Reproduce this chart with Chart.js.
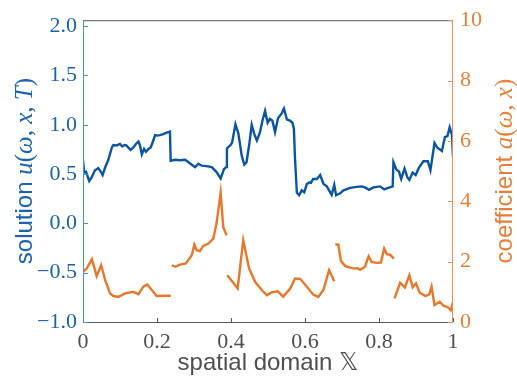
<!DOCTYPE html>
<html>
<head>
<meta charset="utf-8">
<script src="https://cdn.jsdelivr.net/npm/chart.js@4.4.1/dist/chart.umd.min.js"></script>
<style>
  html, body { margin: 0; padding: 0; background: #ffffff; }
  canvas { display: block; }
</style>
</head>
<body>
<canvas id="chart" width="517" height="378"></canvas>
<script>
// Axis ticks and their labels
const xTicks = [0, 0.2, 0.4, 0.6, 0.8, 1];
const xTickLabels = ['0', '0.2', '0.4', '0.6', '0.8', '1'];
const uTicks = [-1, -0.5, 0, 0.5, 1, 1.5, 2];
const uTickLabels = ['\u22121.0', '\u22120.5', '0.0', '0.5', '1.0', '1.5', '2.0'];
const aTicks = [0, 2, 4, 6, 8, 10];
const aTickLabels = ['0', '2', '4', '6', '8', '10'];

// Solution u(ω, x, T) over the spatial domain
const solutionX = [0, 0.003, 0.008, 0.017, 0.024, 0.032, 0.041, 0.048, 0.053, 0.06,
  0.068, 0.078, 0.082, 0.091, 0.1, 0.106, 0.112, 0.118, 0.122, 0.129,
  0.136, 0.143, 0.15, 0.154, 0.159, 0.165, 0.17, 0.177, 0.183, 0.188,
  0.195, 0.201, 0.208, 0.217, 0.226, 0.235, 0.237, 0.249, 0.262, 0.276,
  0.285, 0.303, 0.312, 0.321, 0.334, 0.348, 0.361, 0.372, 0.381, 0.387,
  0.389, 0.399, 0.403, 0.412, 0.42, 0.429, 0.436, 0.442, 0.45, 0.456,
  0.463, 0.47, 0.478, 0.485, 0.492, 0.499, 0.505, 0.512, 0.519, 0.527,
  0.537, 0.543, 0.551, 0.56, 0.566, 0.57, 0.573, 0.578, 0.584, 0.591,
  0.598, 0.605, 0.611, 0.616, 0.622, 0.632, 0.641, 0.65, 0.659, 0.665,
  0.672, 0.679, 0.684, 0.695, 0.704, 0.722, 0.74, 0.753, 0.762, 0.773,
  0.785, 0.803, 0.814, 0.825, 0.837, 0.839, 0.847, 0.854, 0.86, 0.869,
  0.877, 0.882, 0.891, 0.899, 0.908, 0.92, 0.932, 0.939, 0.95, 0.957,
  0.97, 0.978, 0.985, 0.991, 0.997, 1];
const solutionU = [0.64, 0.52, 0.525, 0.43, 0.47, 0.535, 0.56, 0.525, 0.49, 0.57,
  0.64, 0.77, 0.795, 0.79, 0.805, 0.78, 0.795, 0.79, 0.77, 0.745,
  0.77, 0.805, 0.83, 0.79, 0.70, 0.755, 0.725, 0.755, 0.77, 0.82,
  0.895, 0.89, 0.895, 0.905, 0.92, 0.93, 0.635, 0.645, 0.64, 0.645,
  0.62, 0.57, 0.605, 0.585, 0.58, 0.57, 0.52, 0.455, 0.55, 0.57,
  0.76, 0.795, 0.82, 1.005, 0.91, 0.685, 0.595, 0.62, 0.82, 1.0,
  0.905, 0.84, 0.92, 1.04, 1.14, 1.02, 1.06, 1.04, 0.925, 1.065,
  1.115, 1.165, 1.055, 1.04, 1.02, 0.96, 0.655, 0.31, 0.285, 0.335,
  0.315, 0.4, 0.415, 0.41, 0.45, 0.45, 0.49, 0.4, 0.375, 0.335,
  0.29, 0.39, 0.285, 0.305, 0.335, 0.36, 0.37, 0.375, 0.365, 0.34,
  0.365, 0.375, 0.345, 0.36, 0.375, 0.62, 0.545, 0.525, 0.45, 0.555,
  0.465, 0.44, 0.515, 0.49, 0.565, 0.63, 0.63, 0.54, 0.815, 0.77,
  0.735, 0.875, 0.885, 0.975, 0.9, 0.67];

// Coefficient a(ω, x): piecewise, null breaks the line between pieces
const coeffX = [0, 0.01, 0.024, 0.037, 0.049, 0.06, 0.073, 0.082, 0.095, 0.105,
  0.114, 0.136, 0.15, 0.163, 0.174, 0.186, 0.199, 0.217, 0.237,
  0.238,
  0.24, 0.249, 0.262, 0.278, 0.294, 0.301, 0.307, 0.316, 0.325, 0.339,
  0.352, 0.361, 0.372, 0.379, 0.388,
  0.389,
  0.39, 0.418, 0.433, 0.449, 0.465, 0.483, 0.497, 0.51, 0.526, 0.541,
  0.56, 0.573, 0.587, 0.605, 0.622, 0.636, 0.65, 0.665, 0.679,
  0.681,
  0.682, 0.69, 0.697, 0.708, 0.722, 0.735, 0.741, 0.749, 0.762, 0.772,
  0.78, 0.794, 0.805, 0.814, 0.821, 0.83, 0.84,
  0.841,
  0.842, 0.857, 0.87, 0.882, 0.891, 0.9, 0.91, 0.926, 0.936, 0.942,
  0.95, 0.964, 0.974, 0.986, 0.994, 1];
const coeffA = [1.66, 1.77, 2.08, 1.52, 1.88, 1.39, 0.95, 0.86, 0.83, 0.89,
  0.95, 1.0, 0.92, 1.17, 1.24, 1.06, 0.86, 0.87, 0.87,
  null,
  1.88, 1.83, 1.90, 1.94, 2.21, 2.56, 2.38, 2.35, 2.52, 2.60,
  2.76, 3.27, 4.29, 3.15, 2.87,
  null,
  1.55, 1.11, 2.71, 1.77, 1.33, 1.06, 0.89, 0.98, 1.02, 0.84,
  1.11, 1.44, 1.43, 1.17, 0.91, 0.83, 1.07, 1.72, 1.35,
  null,
  2.57, 2.57, 2.03, 1.86, 1.80, 1.77, 1.79, 1.73, 1.83, 2.18,
  1.99, 1.96, 1.97, 2.43, 2.25, 2.23, 2.10,
  null,
  0.78, 1.30, 1.14, 1.55, 1.15, 1.28, 0.97, 0.86, 0.92, 1.17,
  0.56, 0.67, 0.54, 0.49, 0.39, 0.67];

const BLUE_LINE = '#0b54a2';
const ORANGE_LINE = '#e8772c';
const BLUE_TEXT = '#1d62ac';
const ORANGE_TEXT = '#e67f3a';
const BLUE_SPINE = '#4b8fd0';
const ORANGE_SPINE = '#e88d5c';
const GRAY = '#4f4f4f';
const FRAME = '#555555';

const SERIF = '"Liberation Serif", "DejaVu Serif", serif';
const SANS = '"Liberation Sans", "DejaVu Sans", sans-serif';
const TICK_FONT = { family: SERIF, size: 22 };

// Draws a sequence of differently styled text runs, optionally rotated to read bottom-to-top
function drawRuns(ctx, runs, cx, cy, color, rotate) {
  ctx.save();
  ctx.fillStyle = color;
  ctx.textBaseline = 'alphabetic';
  ctx.textAlign = 'left';
  let total = 0;
  runs.forEach(r => { ctx.font = r.f; r.w = ctx.measureText(r.t).width; total += r.w; });
  ctx.translate(cx, cy);
  if (rotate) ctx.rotate(-Math.PI / 2);
  let pos = -total / 2;
  runs.forEach(r => { ctx.font = r.f; ctx.fillText(r.t, pos, 0); pos += r.w; });
  ctx.restore();
}

const framePlugin = {
  id: 'frameAndTitles',
  afterDatasetsDraw(chart) {
    const { ctx, chartArea: a, scales } = chart;
    ctx.save();
    ctx.lineWidth = 1;
    // top and bottom frame
    ctx.strokeStyle = FRAME;
    ctx.beginPath();
    ctx.moveTo(a.left, a.top + 0.5); ctx.lineTo(a.right, a.top + 0.5);
    ctx.moveTo(a.left, a.bottom + 0.5); ctx.lineTo(a.right, a.bottom + 0.5);
    ctx.stroke();
    // bottom ticks, pointing inward
    ctx.beginPath();
    xTicks.forEach(v => {
      const px = Math.round(scales.x.getPixelForValue(v)) + 0.5;
      ctx.moveTo(px, a.bottom); ctx.lineTo(px, a.bottom - 4);
    });
    ctx.stroke();
    // left spine and ticks
    ctx.strokeStyle = BLUE_SPINE;
    ctx.beginPath();
    ctx.moveTo(a.left + 0.5, a.top); ctx.lineTo(a.left + 0.5, a.bottom + 1);
    uTicks.forEach(v => {
      const py = Math.round(scales.yU.getPixelForValue(v)) + 0.5;
      ctx.moveTo(a.left, py); ctx.lineTo(a.left + 5, py);
    });
    ctx.stroke();
    // right spine and ticks
    ctx.strokeStyle = ORANGE_SPINE;
    ctx.beginPath();
    ctx.moveTo(a.right - 0.5, a.top); ctx.lineTo(a.right - 0.5, a.bottom + 1);
    aTicks.forEach(v => {
      const py = Math.round(scales.yA.getPixelForValue(v)) + 0.5;
      ctx.moveTo(a.right, py); ctx.lineTo(a.right - 5, py);
    });
    ctx.stroke();
    ctx.restore();
  },
  afterDraw(chart) {
    const { ctx, chartArea: a } = chart;
    const midY = (a.top + a.bottom) / 2;
    const sans = '24px ' + SANS;
    const it = 'italic 25px ' + SERIF;
    const up = '25px ' + SERIF;
    drawRuns(ctx, [
      { t: 'solution ', f: sans }, { t: 'u', f: it }, { t: '(', f: up },
      { t: '\u03c9', f: it }, { t: ', ', f: up }, { t: 'x', f: it },
      { t: ', ', f: up }, { t: 'T', f: it }, { t: ')', f: up }
    ], 32, midY, BLUE_TEXT, true);
    drawRuns(ctx, [
      { t: 'coefficient ', f: sans }, { t: 'a', f: it }, { t: '(', f: up },
      { t: '\u03c9', f: it }, { t: ', ', f: up }, { t: 'x', f: it }, { t: ')', f: up }
    ], 512, midY, ORANGE_TEXT, true);
    drawRuns(ctx, [
      { t: 'spatial domain ', f: '24px ' + SANS },
      { t: '\ud835\udd4f', f: '24px "DejaVu Sans", "DejaVu Serif", sans-serif' }
    ], (a.left + a.right) / 2, 370, GRAY, false);
  }
};

const solutionPoints = solutionX.map((x, i) => ({ x: x, y: solutionU[i] }));
const coeffPoints = coeffX.map((x, i) => ({ x: x, y: coeffA[i] }));

new Chart(document.getElementById('chart'), {
  type: 'line',
  data: {
    datasets: [
      {
        label: 'solution',
        data: solutionPoints,
        yAxisID: 'yU',
        borderColor: BLUE_LINE,
        borderWidth: 2.4,
        pointRadius: 0,
        tension: 0,
        fill: false
      },
      {
        label: 'coefficient',
        data: coeffPoints,
        yAxisID: 'yA',
        borderColor: ORANGE_LINE,
        borderWidth: 2.4,
        pointRadius: 0,
        tension: 0,
        spanGaps: false,
        fill: false
      }
    ]
  },
  options: {
    responsive: false,
    animation: false,
    devicePixelRatio: 1,
    layout: { padding: { top: 19, left: 0, right: 0, bottom: 0 } },
    plugins: { legend: { display: false }, tooltip: { enabled: false } },
    scales: {
      x: {
        type: 'linear', min: 0, max: 1,
        grid: { display: false, drawTicks: false },
        border: { display: false },
        afterBuildTicks: s => { s.ticks = xTicks.map(v => ({ value: v })); },
        afterFit: s => { s.height = 56; },
        ticks: {
          autoSkip: false, maxRotation: 0, padding: 7,
          color: GRAY, font: TICK_FONT,
          callback: v => xTickLabels[xTicks.indexOf(v)]
        }
      },
      yU: {
        type: 'linear', position: 'left', min: -1, max: 2.06,
        grid: { display: false, drawTicks: false },
        border: { display: false },
        afterBuildTicks: s => { s.ticks = uTicks.map(v => ({ value: v })); },
        afterFit: s => { s.width = 83; },
        ticks: {
          padding: 6, color: BLUE_TEXT, font: TICK_FONT,
          callback: v => uTickLabels[uTicks.indexOf(v)]
        }
      },
      yA: {
        type: 'linear', position: 'right', min: 0, max: 10,
        grid: { display: false, drawTicks: false },
        border: { display: false },
        afterBuildTicks: s => { s.ticks = aTicks.map(v => ({ value: v })); },
        afterFit: s => { s.width = 64; },
        ticks: {
          padding: 7, color: ORANGE_TEXT, font: TICK_FONT,
          callback: v => aTickLabels[aTicks.indexOf(v)]
        }
      }
    }
  },
  plugins: [framePlugin]
});
</script>
</body>
</html>
